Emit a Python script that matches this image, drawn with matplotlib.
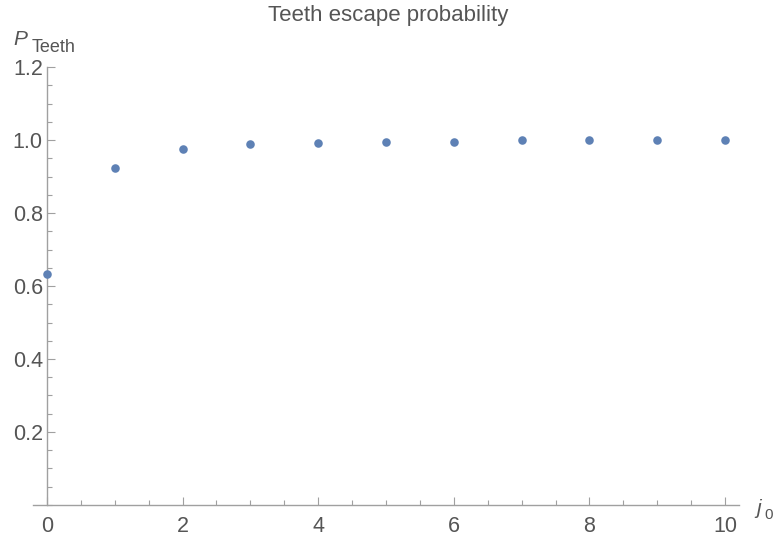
import matplotlib.pyplot as plt
from matplotlib.ticker import MultipleLocator

plt.rcParams["font.family"] = ["Liberation Sans", "DejaVu Sans"]

# escape probability for each starting index j0
j0 = [0, 1, 2, 3, 4, 5, 6, 7, 8, 9, 10]
p_teeth = [0.632, 0.924, 0.976, 0.988, 0.993, 0.994, 0.994, 1.0, 1.0, 1.0, 1.0]

axis_color = "#a0a0a0"
text_color = "#555555"

fig = plt.figure(figsize=(7.76, 5.42), dpi=100)
ax = fig.add_axes([0.043, 0.0683, 0.9088, 0.808])

ax.scatter(j0, p_teeth, s=38, color="#5e81b5", zorder=3, linewidths=0)

ax.set_xlim(-0.2, 10.2)
ax.set_ylim(0, 1.2)

ax.spines["top"].set_visible(False)
ax.spines["right"].set_visible(False)
ax.spines["left"].set_position(("data", 0))
for side in ("left", "bottom"):
    ax.spines[side].set_color(axis_color)
    ax.spines[side].set_linewidth(1.0)

ax.xaxis.set_major_locator(MultipleLocator(2))
ax.xaxis.set_minor_locator(MultipleLocator(0.5))
ax.yaxis.set_minor_locator(MultipleLocator(0.05))
ax.set_yticks([0.2, 0.4, 0.6, 0.8, 1.0, 1.2])
ax.set_yticklabels(["0.2", "0.4", "0.6", "0.8", "1.0", "1.2"])

ax.tick_params(which="both", direction="in", color=axis_color, width=0.8,
               labelcolor=text_color, labelsize=15.5)
ax.tick_params(which="major", length=6)
ax.tick_params(which="minor", length=3.5)
ax.tick_params(axis="x", pad=8)
ax.tick_params(axis="y", pad=3)

fig.text(0.5, 0.99, "Teeth escape probability", ha="center", va="top",
         fontsize=16, color=text_color)

# axis labels at the ends of the axes
fig.text(13 / 776, 1 - 45 / 542, "P", fontsize=15, style="italic",
         color=text_color, va="baseline")
fig.text(32 / 776, 1 - 52 / 542, "Teeth", fontsize=13,
         color=text_color, va="baseline")
fig.text(756 / 776, 1 - 514 / 542, "j", fontsize=15, style="italic",
         color=text_color, va="baseline")
fig.text(764 / 776, 1 - 519 / 542, "0", fontsize=11,
         color=text_color, va="baseline")

fig.savefig("out.png", dpi=100)
